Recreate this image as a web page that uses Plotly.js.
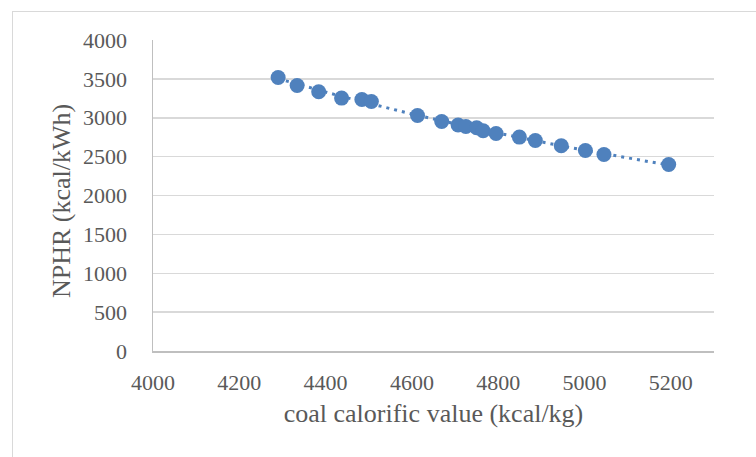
<!DOCTYPE html>
<html>
<head>
<meta charset="utf-8">
<script src="https://cdn.plot.ly/plotly-3.0.1.min.js"></script>
<style>
  html, body { margin: 0; padding: 0; background: #fff; }
  #wrap { position: relative; width: 756px; height: 457px; overflow: hidden; }
  #chart { position: absolute; left: 0; top: 0; width: 756px; height: 457px; }
  #frame { position: absolute; left: 12px; top: 11px; width: 800px; height: 500px;
           border-left: 1px solid #d9d9d9; border-top: 1px solid #d9d9d9; pointer-events: none; }
</style>
</head>
<body>
<div id="wrap">
  <div id="chart"></div>
  <div id="frame"></div>
</div>
<script>
// Data
const calorificValue = [4290, 4334, 4384, 4437, 4484, 4506, 4613, 4669, 4707, 4725,
                        4750, 4765, 4795, 4849, 4886, 4946, 5002, 5045, 5195];
const nphr = [3518, 3415, 3334, 3253, 3235, 3209, 3029, 2952, 2906, 2888,
              2871, 2832, 2797, 2751, 2707, 2639, 2579, 2527, 2398];
const xTicks = [4000, 4200, 4400, 4600, 4800, 5000, 5200];
const yTicks = [0, 500, 1000, 1500, 2000, 2500, 3000, 3500, 4000];
const xTitle = 'coal calorific value (kcal/kg)';
const yTitle = 'NPHR (kcal/kWh)';

// Power trendline (least squares in log-log space), like a spreadsheet trendline
const n = calorificValue.length;
let sx = 0, sy = 0, sxx = 0, sxy = 0;
for (let i = 0; i < n; i++) {
  const lx = Math.log(calorificValue[i]), ly = Math.log(nphr[i]);
  sx += lx; sy += ly; sxx += lx * lx; sxy += lx * ly;
}
const b = (n * sxy - sx * sy) / (n * sxx - sx * sx);
const a = Math.exp((sy - b * sx) / n);
const xMin = Math.min(...calorificValue), xMax = Math.max(...calorificValue);
const trendX = [], trendY = [];
for (let k = 0; k <= 60; k++) {
  const xv = xMin + (xMax - xMin) * k / 60;
  trendX.push(xv);
  trendY.push(a * Math.pow(xv, b));
}

const font = 'Liberation Serif, Times New Roman, serif';
const grey = '#595959';

const traces = [
  {
    x: trendX, y: trendY, type: 'scatter', mode: 'lines',
    line: { color: '#4F81BD', width: 3, dash: '3px,5px' },
    hoverinfo: 'skip', showlegend: false
  },
  {
    x: calorificValue, y: nphr, type: 'scatter', mode: 'markers',
    marker: { color: '#4F81BD', size: 15, line: { width: 0 } },
    showlegend: false
  }
];

const layout = {
  width: 756, height: 457,
  margin: { l: 153, r: 42, t: 40, b: 106, pad: 0 },
  paper_bgcolor: '#ffffff', plot_bgcolor: '#ffffff',
  font: { family: font, color: grey },
  showlegend: false,
  xaxis: {
    range: [4000, 5300],
    tickvals: xTicks, ticktext: xTicks.map(String),
    showgrid: false, zeroline: false,
    showline: true, linecolor: '#bfbfbf', linewidth: 1.5,
    ticks: '', ticklabelstandoff: 11,
    tickfont: { family: font, size: 22, color: grey },
    title: { text: xTitle, font: { family: font, size: 26, color: grey }, standoff: 10 },
    automargin: false, fixedrange: true
  },
  yaxis: {
    range: [0, 4000],
    tickvals: yTicks, ticktext: yTicks.map(String),
    showgrid: true, gridcolor: '#d9d9d9', gridwidth: 1.5,
    zeroline: false,
    showline: true, linecolor: '#bfbfbf', linewidth: 1.5,
    ticks: '', ticklabelstandoff: 20,
    tickfont: { family: font, size: 22, color: grey },
    automargin: false, fixedrange: true
  },
  annotations: [{
    text: yTitle, textangle: -90, showarrow: false,
    xref: 'paper', yref: 'paper', x: -0.164, y: 0.482,
    xanchor: 'center', yanchor: 'middle',
    font: { family: font, size: 26, color: grey }
  }]
};

Plotly.newPlot('chart', traces, layout, { displayModeBar: false, staticPlot: true });
</script>
</body>
</html>
